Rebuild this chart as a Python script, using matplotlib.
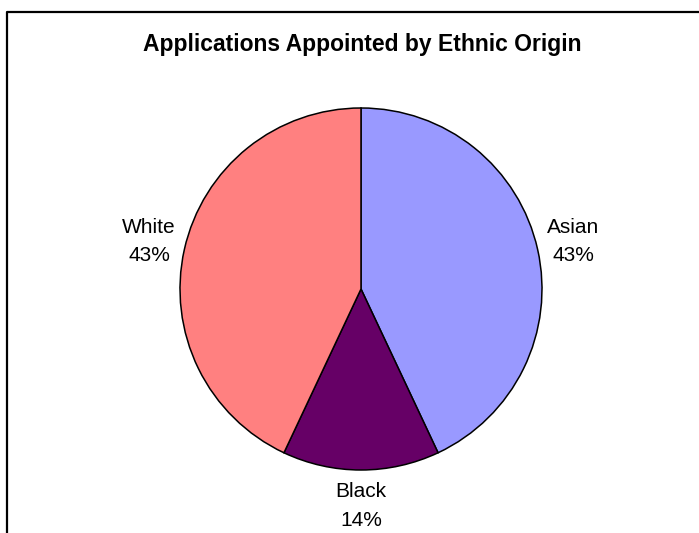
import matplotlib
matplotlib.use("Agg")
import matplotlib.pyplot as plt
from matplotlib.lines import Line2D

categories = ["Asian", "Black", "White"]
shares = [43, 14, 43]
colors = ["#9999FF", "#660066", "#FF8080"]
title = "Applications Appointed by Ethnic Origin"

plt.rcParams["font.family"] = ["Liberation Sans", "DejaVu Sans"]

W, H = 699, 533
fig = plt.figure(figsize=(W / 100, H / 100), dpi=100)
fig.patch.set_facecolor("white")

# pie area: centre (361, 289) px, radius 181 px
cx, cy, r = 361, 289, 181
ax = fig.add_axes([(cx - r) / W, (H - cy - r) / H, 2 * r / W, 2 * r / H])

labels = [f"{c}\n{v}%" for c, v in zip(categories, shares)]
wedges, texts = ax.pie(
    shares,
    labels=labels,
    colors=colors,
    startangle=90,
    counterclock=False,
    labeldistance=1.2,
    wedgeprops=dict(edgecolor="black", linewidth=1.1),
    textprops=dict(fontsize=15, color="black", linespacing=1.65),
)
for t in texts:
    t.set_ha("center")
    t.set_va("center")
    t.set_multialignment("center")
    t.set_clip_on(False)

ax.set_xlim(-1, 1)
ax.set_ylim(-1, 1)
ax.set_aspect("equal")
ax.axis("off")

fig.text(362 / W, 1 - 45 / H, title, ha="center", va="center",
         fontsize=16.5, fontweight="bold")

# chart frame (runs off the right and bottom edges)
fig.add_artist(Line2D([6.5 / W, 6.5 / W, 1.0], [0.0, 1 - 11.5 / H, 1 - 11.5 / H],
                      transform=fig.transFigure, color="black", linewidth=1.6))

fig.savefig("out.png", dpi=100, facecolor="white")
